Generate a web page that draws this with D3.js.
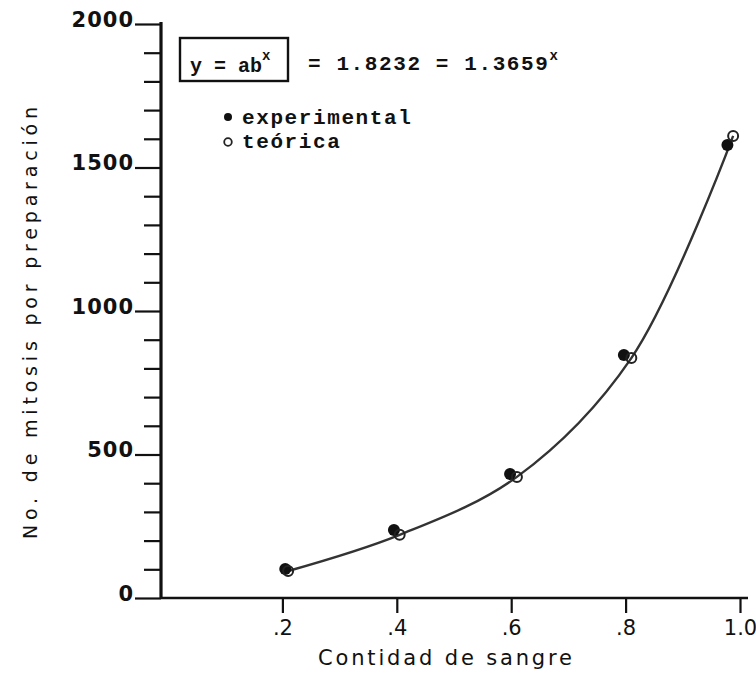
<!DOCTYPE html>
<html>
<head>
<meta charset="utf-8">
<script src="https://cdn.jsdelivr.net/npm/d3@7"></script>
<style>
  body { margin: 0; background: #fff; }
  svg { display: block; }
  .lbl { font-family: "DejaVu Sans", sans-serif; fill: #111; }
  .tt { font-family: "Liberation Mono", "DejaVu Sans Mono", monospace; font-weight: bold; fill: #111; }
</style>
</head>
<body>
<script>
// x categories and tick labels
const xTicks = [0.2, 0.4, 0.6, 0.8, 1.0];
const xTickLabels = [".2", ".4", ".6", ".8", "1.0"];
// y ticks
const yMajor = [0, 500, 1000, 1500, 2000];
const yMinor = d3.range(0, 2001, 100);
// experimental (filled) points
const expX = [0.205, 0.395, 0.598, 0.797, 0.978];
const expY = [101, 237, 432, 847, 1578];
// theoretical (open) points
const teoX = [0.21, 0.405, 0.61, 0.81, 0.988];
const teoY = [94, 220, 422, 836, 1610];

const width = 756, height = 673;
const svg = d3.select("body").append("svg")
  .attr("width", width).attr("height", height);

const x = d3.scaleLinear().domain([0, 1]).range([168, 740]);
const y = d3.scaleLinear().domain([0, 2000]).range([598, 24]);
const axisX = 161;

// y axis
const gy = svg.append("g").attr("transform", `translate(${axisX},0)`)
  .call(d3.axisLeft(y).tickValues(yMinor).tickSize(15).tickFormat(""));
gy.select(".domain").remove();
gy.selectAll(".tick line")
  .attr("stroke", "#111").attr("stroke-width", 2.2)
  .attr("x2", d => yMajor.includes(d) ? -26 : -17);
gy.selectAll(".tick")
  .filter(d => yMajor.includes(d))
  .append("text")
  .attr("class", "lbl")
  .attr("x", -27).attr("y", 2)
  .attr("text-anchor", "end")
  .style("font-size", "21px").style("font-weight", "bold").style("letter-spacing", "1px")
  .text(d => d);
svg.append("line")
  .attr("x1", axisX).attr("x2", axisX)
  .attr("y1", y(2000) - 2).attr("y2", y(0) + 1)
  .attr("stroke", "#111").attr("stroke-width", 3.2);

// x axis
const gx = svg.append("g").attr("transform", `translate(0,${y(0)})`)
  .call(d3.axisBottom(x).tickValues(xTicks).tickSize(15)
    .tickFormat((d, i) => xTickLabels[i]));
gx.select(".domain").remove();
gx.selectAll(".tick line").attr("stroke", "#111").attr("stroke-width", 2.2);
gx.selectAll(".tick text")
  .attr("class", "lbl").attr("y", 22).attr("dy", "0.71em")
  .style("font-size", "21px");
svg.append("line")
  .attr("x1", axisX).attr("x2", x(1) + 8)
  .attr("y1", y(0)).attr("y2", y(0))
  .attr("stroke", "#111").attr("stroke-width", 2.4);

// axis titles
svg.append("text").attr("class", "lbl")
  .attr("x", 445).attr("y", 665)
  .attr("text-anchor", "middle")
  .attr("textLength", 254).attr("lengthAdjust", "spacing")
  .style("font-size", "21px")
  .text("Contidad de sangre");
svg.append("text").attr("class", "lbl")
  .attr("transform", "translate(37,323) rotate(-90)")
  .attr("text-anchor", "middle")
  .attr("textLength", 432).attr("lengthAdjust", "spacing")
  .style("font-size", "19px")
  .text("No. de mitosis por preparación");

// fitted curve through theoretical points
const line = d3.line()
  .x((d, i) => x(teoX[i])).y(d => y(d))
  .curve(d3.curveCatmullRom.alpha(0.5));
svg.append("path")
  .attr("d", line(teoY))
  .attr("fill", "none").attr("stroke", "#333").attr("stroke-width", 2.4);

// markers
svg.append("g").selectAll("circle")
  .data(expY).join("circle")
  .attr("cx", (d, i) => x(expX[i])).attr("cy", d => y(d))
  .attr("r", 6).attr("fill", "#111");
svg.append("g").selectAll("circle")
  .data(teoY).join("circle")
  .attr("cx", (d, i) => x(teoX[i])).attr("cy", d => y(d))
  .attr("r", 5).attr("fill", "none").attr("stroke", "#222").attr("stroke-width", 2);

// formula box
svg.append("rect")
  .attr("x", 180).attr("y", 38).attr("width", 108).attr("height", 43)
  .attr("fill", "none").attr("stroke", "#111").attr("stroke-width", 2.4);
const f1 = svg.append("text").attr("class", "tt")
  .attr("x", 190).attr("y", 72)
  .style("font-size", "20px");
f1.append("tspan").text("y = ab");
f1.append("tspan").attr("dy", -12).style("font-size", "14px").text("x");

const f2 = svg.append("text").attr("class", "tt")
  .attr("x", 308).attr("y", 70)
  .style("font-size", "21px").style("letter-spacing", "1.6px");
f2.append("tspan").text("= 1.8232 = 1.3659");
f2.append("tspan").attr("dy", -10).style("font-size", "14px").style("letter-spacing", "0px").text("x");

// legend
svg.append("circle").attr("cx", 228).attr("cy", 117).attr("r", 4).attr("fill", "#111");
svg.append("text").attr("class", "tt")
  .attr("x", 242).attr("y", 124)
  .style("font-size", "21px").style("letter-spacing", "1.6px")
  .text("experimental");
svg.append("circle").attr("cx", 228).attr("cy", 142).attr("r", 3.8)
  .attr("fill", "none").attr("stroke", "#222").attr("stroke-width", 1.8);
svg.append("text").attr("class", "tt")
  .attr("x", 242).attr("y", 148)
  .style("font-size", "21px").style("letter-spacing", "1.6px")
  .text("teórica");
</script>
</body>
</html>
